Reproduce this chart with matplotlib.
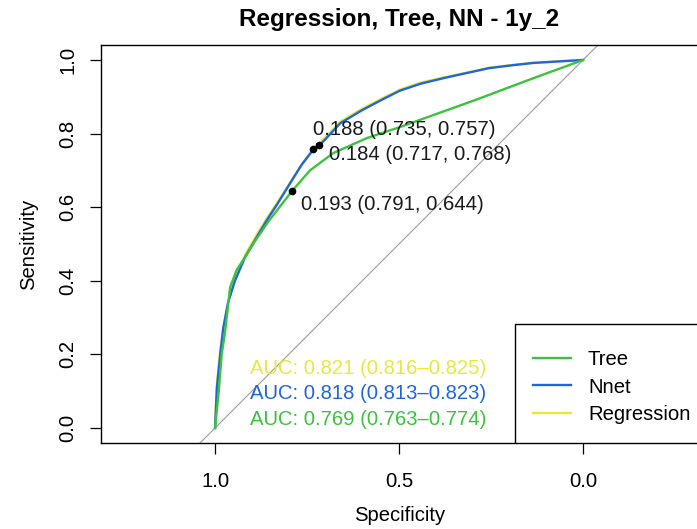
"""plot.py - ROC curves for regression, tree and neural net (1y_2)"""

import matplotlib
matplotlib.use("Agg")
import matplotlib.pyplot as plt
from matplotlib.patches import Rectangle
from matplotlib.lines import Line2D

plt.rcParams['font.family'] = ['Liberation Sans', 'DejaVu Sans']

# roc curves (specificity, sensitivity)
reg_spec = [1.0, 0.995, 0.986, 0.976, 0.962, 0.944, 0.916, 0.884, 0.856, 0.826,
            0.793, 0.762, 0.735, 0.70, 0.66, 0.60, 0.543, 0.497, 0.44, 0.378,
            0.31, 0.255, 0.19, 0.136, 0.07, 0.0]
reg_sens = [0.0, 0.12, 0.21, 0.28, 0.35, 0.41, 0.475, 0.53, 0.575, 0.62,
            0.672, 0.72, 0.757, 0.79, 0.832, 0.868, 0.897, 0.92, 0.939, 0.953,
            0.967, 0.979, 0.987, 0.992, 0.996, 1.0]

nnet_spec = [1.0, 0.995, 0.986, 0.978, 0.965, 0.946, 0.918, 0.886, 0.859, 0.83,
             0.796, 0.765, 0.734, 0.717, 0.70, 0.66, 0.60, 0.543, 0.497, 0.44,
             0.378, 0.31, 0.255, 0.19, 0.136, 0.07, 0.0]
nnet_sens = [0.0, 0.11, 0.20, 0.27, 0.34, 0.40, 0.465, 0.52, 0.565, 0.61,
             0.665, 0.715, 0.755, 0.768, 0.785, 0.828, 0.864, 0.894, 0.917, 0.936,
             0.951, 0.966, 0.978, 0.986, 0.992, 0.996, 1.0]

tree_spec = [1.0, 0.99, 0.982, 0.973, 0.965, 0.959, 0.941, 0.918, 0.89, 0.856,
             0.825, 0.791, 0.742, 0.679, 0.587, 0.497, 0.408, 0.288, 0.15, 0.0]
tree_sens = [0.0, 0.10, 0.20, 0.26, 0.33, 0.383, 0.43, 0.465, 0.51, 0.56,
             0.60, 0.644, 0.70, 0.747, 0.788, 0.818, 0.85, 0.893, 0.945, 1.0]

# best thresholds (threshold, specificity, sensitivity)
thr_labels = ["0.188", "0.184", "0.193"]
thr_spec = [0.735, 0.717, 0.791]
thr_sens = [0.757, 0.768, 0.644]

auc_labels = ["AUC: 0.821 (0.816\u20130.825)",
              "AUC: 0.818 (0.813\u20130.823)",
              "AUC: 0.769 (0.763\u20130.774)"]

legend_labels = ["Tree", "Nnet", "Regression"]

c_reg = "#EDE63C"
c_nnet = "#1F66DC"
c_tree = "#3DC23D"

fs = 14.6

fig = plt.figure(figsize=(6.97, 5.29), dpi=100)
ax = fig.add_axes([101 / 697, 86 / 529, 597 / 697, 398 / 529])

ax.set_xlim(1.31, -0.3125)
ax.set_ylim(-0.0408, 1.0408)

# chance line
ax.axline((1, 0), (0, 1), color="#9A9A9A", lw=0.8, zorder=1)

ax.plot(reg_spec, reg_sens, color=c_reg, lw=1.7, zorder=2)
ax.plot(nnet_spec, nnet_sens, color=c_nnet, lw=1.7, zorder=3)
ax.plot(tree_spec, tree_sens, color=c_tree, lw=1.7, zorder=4)

ax.plot(thr_spec, thr_sens, "o", color="black", ms=4.5, zorder=5)
# label offsets like pROC print.thres (x axis is reversed)
offs = [(-0.001, 0.053), (-0.027, -0.026), (-0.025, -0.038)]
for lab, sx, sy, (dx, dy) in zip(thr_labels, thr_spec, thr_sens, offs):
    ax.text(sx + dx, sy + dy, "%s (%.3f, %.3f)" % (lab, sx, sy),
            fontsize=fs, ha="left", va="center", color="#1a1a1a", zorder=6)

auc_cols = [c_reg, c_nnet, c_tree]
auc_y = [0.163, 0.095, 0.024]
for lab, col, yy in zip(auc_labels, auc_cols, auc_y):
    ax.text(0.905, yy, lab, color=col, fontsize=fs, ha="left", va="center", zorder=6)

# legend box (bottomright, cut by the image edge)
ax.add_patch(Rectangle((0.6935, 0), 0.3065, 0.299, transform=ax.transAxes,
                       facecolor="white", edgecolor="black", lw=1.0, zorder=7))
handles = [Line2D([], [], color=c, lw=1.7) for c in [c_tree, c_nnet, c_reg]]
leg = ax.legend(handles, legend_labels, loc="upper left",
                bbox_to_anchor=((533 - 101) / 597, (443 - 350) / 398),
                frameon=False, fontsize=fs, borderpad=0, borderaxespad=0,
                handlelength=1.87, handletextpad=0.84, labelspacing=0.42)
leg.set_zorder(8)

ax.set_xticks([1.0, 0.5, 0.0])
ax.set_xticklabels(["1.0", "0.5", "0.0"])
ax.set_yticks([0.0, 0.2, 0.4, 0.6, 0.8, 1.0])
ax.set_yticklabels(["0.0", "0.2", "0.4", "0.6", "0.8", "1.0"], rotation=90, va="center")
ax.tick_params(axis="both", labelsize=fs, length=8, width=0.9, color="black")
ax.tick_params(axis="x", pad=13)
ax.tick_params(axis="y", pad=9)
for sp in ax.spines.values():
    sp.set_linewidth(1.0)

ax.set_xlabel("Specificity", fontsize=fs, labelpad=11)
ax.set_ylabel("Sensitivity", fontsize=fs, labelpad=15)
ax.set_title("Regression, Tree, NN - 1y_2", fontsize=17.5, fontweight="bold", pad=14)

fig.savefig("out.png", dpi=100)
